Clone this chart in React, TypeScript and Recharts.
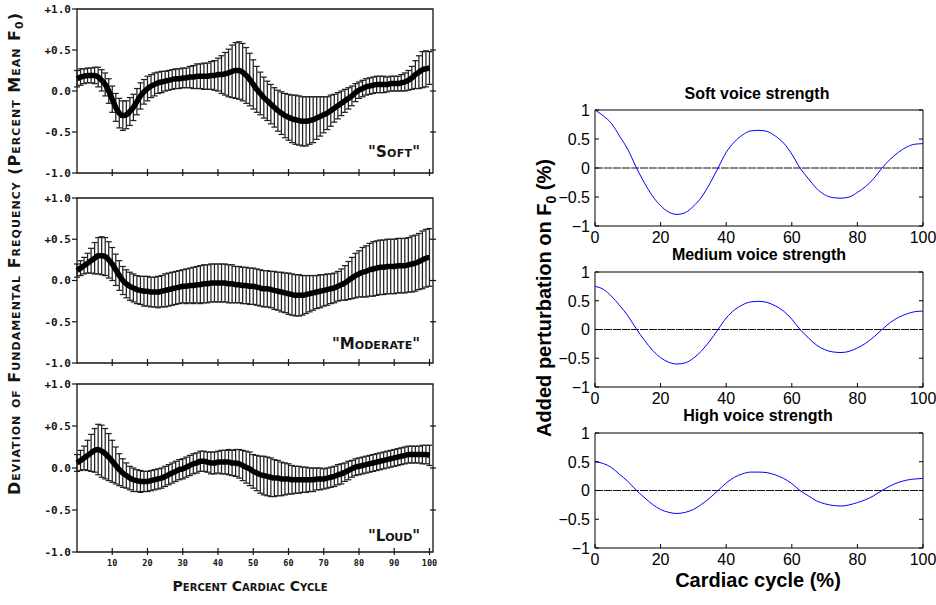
import React from 'react';
import { LineChart, Line, XAxis, YAxis, ErrorBar, ReferenceArea, ReferenceLine } from 'recharts';

// left figure: measured F0 deviation over the cardiac cycle (mean +/- error), one value per percent
const leftPct = [
  0, 1, 2, 3, 4, 5, 6, 7, 8, 9,
  10, 11, 12, 13, 14, 15, 16, 17, 18, 19,
  20, 21, 22, 23, 24, 25, 26, 27, 28, 29,
  30, 31, 32, 33, 34, 35, 36, 37, 38, 39,
  40, 41, 42, 43, 44, 45, 46, 47, 48, 49,
  50, 51, 52, 53, 54, 55, 56, 57, 58, 59,
  60, 61, 62, 63, 64, 65, 66, 67, 68, 69,
  70, 71, 72, 73, 74, 75, 76, 77, 78, 79,
  80, 81, 82, 83, 84, 85, 86, 87, 88, 89,
  90, 91, 92, 93, 94, 95, 96, 97, 98, 99,
  100];

const softMean = [
  0.15, 0.17, 0.18, 0.19, 0.19, 0.19, 0.17, 0.13, 0.08, 0.0,
  -0.1, -0.2, -0.27, -0.3, -0.29, -0.25, -0.2, -0.13, -0.06, -0.01,
  0.03, 0.06, 0.08, 0.1, 0.11, 0.12, 0.13, 0.14, 0.15, 0.15,
  0.16, 0.16, 0.17, 0.17, 0.18, 0.18, 0.18, 0.18, 0.19, 0.19,
  0.2, 0.2, 0.21, 0.22, 0.24, 0.25, 0.25, 0.23, 0.19, 0.14,
  0.08, 0.02, -0.03, -0.08, -0.12, -0.16, -0.2, -0.24, -0.27, -0.3,
  -0.32, -0.34, -0.35, -0.36, -0.37, -0.37, -0.36, -0.35, -0.33, -0.31,
  -0.29, -0.27, -0.24, -0.21, -0.18, -0.15, -0.12, -0.09, -0.06, -0.02,
  0.01, 0.03, 0.05, 0.06, 0.07, 0.08, 0.08, 0.08, 0.08, 0.09,
  0.09, 0.09, 0.1, 0.11, 0.13, 0.16, 0.2, 0.23, 0.26, 0.27,
  0.28];
const softErr = [
  0.1, 0.1, 0.09, 0.09, 0.09, 0.1, 0.12, 0.13, 0.14, 0.15,
  0.16, 0.17, 0.18, 0.18, 0.17, 0.17, 0.16, 0.16, 0.16, 0.15,
  0.15, 0.14, 0.14, 0.13, 0.13, 0.12, 0.12, 0.12, 0.12, 0.12,
  0.12, 0.12, 0.13, 0.14, 0.15, 0.15, 0.16, 0.16, 0.17, 0.18,
  0.2, 0.23, 0.26, 0.29, 0.32, 0.34, 0.35, 0.35, 0.34, 0.32,
  0.3, 0.28, 0.26, 0.25, 0.24, 0.24, 0.24, 0.25, 0.26, 0.27,
  0.28, 0.29, 0.3, 0.3, 0.3, 0.3, 0.29, 0.28, 0.26, 0.24,
  0.22, 0.2, 0.19, 0.17, 0.16, 0.15, 0.14, 0.13, 0.12, 0.11,
  0.1, 0.1, 0.1, 0.1, 0.1, 0.1, 0.1, 0.1, 0.09, 0.09,
  0.09, 0.09, 0.1, 0.11, 0.12, 0.14, 0.17, 0.2, 0.22, 0.22,
  0.2];

const modMean = [
  0.12, 0.15, 0.18, 0.21, 0.24, 0.27, 0.3, 0.3, 0.29, 0.25,
  0.2, 0.13, 0.06, 0.0, -0.04, -0.07, -0.09, -0.11, -0.12, -0.13,
  -0.13, -0.14, -0.14, -0.14, -0.13, -0.12, -0.11, -0.1, -0.09, -0.08,
  -0.07, -0.07, -0.06, -0.06, -0.05, -0.05, -0.04, -0.04, -0.03, -0.03,
  -0.03, -0.03, -0.03, -0.04, -0.04, -0.05, -0.05, -0.06, -0.06, -0.07,
  -0.07, -0.08, -0.09, -0.1, -0.1, -0.11, -0.12, -0.13, -0.14, -0.15,
  -0.16, -0.17, -0.18, -0.18, -0.18, -0.17, -0.16, -0.15, -0.14, -0.13,
  -0.12, -0.11, -0.1, -0.09, -0.07, -0.05, -0.03, 0.0, 0.03, 0.06,
  0.08, 0.1, 0.11, 0.13, 0.14, 0.15, 0.16, 0.16, 0.17, 0.17,
  0.17, 0.18, 0.18, 0.18, 0.19, 0.2, 0.21, 0.23, 0.25, 0.27,
  0.28];
const modErr = [
  0.08, 0.09, 0.1, 0.12, 0.15, 0.19, 0.22, 0.23, 0.23, 0.22,
  0.2, 0.19, 0.18, 0.17, 0.17, 0.17, 0.17, 0.17, 0.17, 0.18,
  0.18, 0.18, 0.18, 0.19, 0.19, 0.2, 0.2, 0.2, 0.2, 0.2,
  0.2, 0.21, 0.21, 0.22, 0.22, 0.23, 0.23, 0.23, 0.23, 0.23,
  0.23, 0.23, 0.23, 0.23, 0.23, 0.22, 0.22, 0.22, 0.22, 0.22,
  0.22, 0.22, 0.22, 0.22, 0.22, 0.22, 0.23, 0.23, 0.24, 0.24,
  0.25, 0.25, 0.25, 0.25, 0.24, 0.23, 0.22, 0.21, 0.2, 0.2,
  0.19, 0.19, 0.18, 0.18, 0.18, 0.19, 0.21, 0.23, 0.25, 0.27,
  0.28, 0.3, 0.31, 0.32, 0.33, 0.33, 0.33, 0.33, 0.33, 0.33,
  0.33, 0.33, 0.33, 0.33, 0.33, 0.34, 0.34, 0.34, 0.35, 0.35,
  0.35];

const loudMean = [
  0.06, 0.09, 0.12, 0.15, 0.18, 0.21, 0.22, 0.2, 0.17, 0.13,
  0.08, 0.03, -0.02, -0.06, -0.09, -0.12, -0.14, -0.15, -0.16, -0.16,
  -0.16, -0.15, -0.14, -0.13, -0.12, -0.1, -0.08, -0.06, -0.04, -0.02,
  -0.01, 0.01, 0.03, 0.05, 0.06, 0.08, 0.08, 0.07, 0.06, 0.06,
  0.07, 0.07, 0.07, 0.07, 0.06, 0.06, 0.05, 0.03, 0.01, -0.01,
  -0.04, -0.06, -0.08, -0.09, -0.1, -0.11, -0.12, -0.12, -0.13, -0.13,
  -0.13, -0.14, -0.14, -0.14, -0.14, -0.14, -0.14, -0.14, -0.13, -0.13,
  -0.13, -0.12, -0.11, -0.1, -0.08, -0.07, -0.05, -0.03, -0.01, 0.01,
  0.02, 0.03, 0.04, 0.05, 0.06, 0.07, 0.08, 0.09, 0.1, 0.11,
  0.12, 0.13, 0.14, 0.15, 0.16, 0.16, 0.16, 0.16, 0.16, 0.16,
  0.15];
const loudErr = [
  0.1, 0.12, 0.14, 0.18, 0.22, 0.26, 0.3, 0.31, 0.3, 0.28,
  0.25, 0.22, 0.19, 0.17, 0.15, 0.14, 0.14, 0.13, 0.13, 0.12,
  0.12, 0.12, 0.12, 0.12, 0.12, 0.12, 0.12, 0.12, 0.12, 0.12,
  0.12, 0.12, 0.12, 0.12, 0.12, 0.12, 0.12, 0.12, 0.13, 0.13,
  0.13, 0.14, 0.14, 0.15, 0.15, 0.16, 0.17, 0.18, 0.19, 0.2,
  0.2, 0.21, 0.22, 0.23, 0.23, 0.23, 0.22, 0.21, 0.2, 0.19,
  0.18, 0.17, 0.16, 0.16, 0.15, 0.15, 0.14, 0.14, 0.13, 0.13,
  0.12, 0.12, 0.12, 0.12, 0.12, 0.12, 0.11, 0.11, 0.1, 0.1,
  0.1, 0.1, 0.1, 0.1, 0.1, 0.1, 0.1, 0.1, 0.1, 0.1,
  0.1, 0.1, 0.1, 0.1, 0.1, 0.1, 0.1, 0.1, 0.11, 0.11,
  0.12];

const leftXTicks = [10, 20, 30, 40, 50, 60, 70, 80, 90, 100];
const leftYTicks = [-1, -0.5, 0, 0.5, 1];
const leftYLabels = ['-1.0', '-0.5', '0.0', '+0.5', '+1.0'];

// right figure: added perturbation on F0
const rightPct = [0, 2.5, 5, 7.5, 10, 12.5, 15, 17.5, 20, 22.5, 25, 27.5, 30, 32.5, 35, 37.5, 40, 42.5, 45, 47.5, 50,
  52.5, 55, 57.5, 60, 62.5, 65, 67.5, 70, 72.5, 75, 77.5, 80, 82.5, 85, 87.5, 90, 92.5, 95, 97.5, 100];
const softCurve = [1.0, 0.9, 0.77, 0.55, 0.32, 0.02, -0.25, -0.48, -0.65, -0.76, -0.8, -0.77, -0.66, -0.5, -0.27, 0.0,
  0.27, 0.45, 0.57, 0.64, 0.65, 0.63, 0.55, 0.43, 0.24, 0.0, -0.18, -0.35, -0.46, -0.51, -0.52, -0.5, -0.42,
  -0.32, -0.18, 0.0, 0.15, 0.27, 0.36, 0.41, 0.42];
const mediumCurve = [0.75, 0.7, 0.58, 0.42, 0.24, 0.02, -0.18, -0.36, -0.49, -0.57, -0.6, -0.58, -0.5, -0.37, -0.2, 0.0,
  0.2, 0.34, 0.43, 0.48, 0.49, 0.47, 0.41, 0.32, 0.18, 0.0, -0.14, -0.27, -0.35, -0.39, -0.4, -0.38, -0.32,
  -0.24, -0.13, 0.0, 0.12, 0.21, 0.27, 0.31, 0.32];
const highCurve = [0.5, 0.47, 0.4, 0.28, 0.16, 0.01, -0.12, -0.24, -0.33, -0.38, -0.4, -0.38, -0.33, -0.24, -0.13, 0.0,
  0.13, 0.23, 0.29, 0.32, 0.32, 0.31, 0.27, 0.21, 0.12, 0.0, -0.09, -0.18, -0.23, -0.26, -0.27, -0.25, -0.21,
  -0.16, -0.09, 0.0, 0.08, 0.14, 0.18, 0.2, 0.21];

const rightXTicks = [0, 20, 40, 60, 80, 100];
const rightYTicks = [-1, -0.5, 0, 0.5, 1];
const rightYLabels = ['\u22121', '\u22120.5', '0', '0.5', '1'];

const monoFont = '"DejaVu Sans Mono", monospace';
const capsFont = '"DejaVu Sans", sans-serif';
const helv = '"Liberation Sans", Arial, sans-serif';
const ink = '#151515';

const makeLeft = (mean: number[], err: number[]) => leftPct.map((x, i) => ({ x, mean: mean[i], err: err[i] }));
const makeRight = (vals: number[]) => rightPct.map((x, i) => ({ x, v: vals[i] }));

const LeftPanel = ({ data, plotTop, plotH, xLabels }: any) => {
  const h = plotH + 40;
  const xTick = (p: any) => (
    <g>
      <line x1={p.x} x2={p.x} y1={p.y - 4} y2={p.y + 3} stroke={ink} strokeWidth={1.2} />
      {xLabels && (
        <text x={p.x} y={p.y + 14} textAnchor="middle" fontFamily={monoFont} fontWeight="bold" fontSize={8.5} fill={ink}>
          {p.payload.value}
        </text>
      )}
    </g>
  );
  const yTick = (p: any) => (
    <g>
      <line x1={p.x - 5} x2={p.x} y1={p.y} y2={p.y} stroke={ink} strokeWidth={1.2} />
      <text x={p.x - 6} y={p.y} dy="0.35em" textAnchor="end" fontFamily={monoFont} fontWeight="bold" fontSize={11} fill={ink}>
        {leftYLabels[leftYTicks.indexOf(p.payload.value)]}
      </text>
    </g>
  );
  const rTick = (p: any) => (
    <line x1={p.x - 3} x2={p.x + 3} y1={p.y} y2={p.y} stroke={ink} strokeWidth={1.2} />
  );
  return (
    <div style={{ position: 'absolute', left: 0, top: plotTop - 10, width: 440, height: h }}>
      <LineChart width={440} height={h} data={data} margin={{ top: 10, right: 0, bottom: 0, left: 0 }}>
        <XAxis xAxisId="b" dataKey="x" type="number" domain={[0, 101]} ticks={leftXTicks} height={30}
          tickSize={0} tickMargin={0} axisLine={false} tickLine={false} tick={xTick} interval={0} />
        <YAxis yAxisId="l" type="number" domain={[-1, 1]} ticks={leftYTicks} width={77}
          tickSize={0} tickMargin={0} axisLine={false} tickLine={false} tick={yTick} interval={0} />
        <YAxis yAxisId="r" orientation="right" type="number" domain={[-1, 1]} ticks={[-0.5, 0, 0.5]} width={7}
          tickSize={0} tickMargin={0} axisLine={false} tickLine={false} tick={rTick} interval={0} />
        <ReferenceArea xAxisId="b" yAxisId="l" x1={0} x2={101} y1={-1} y2={1} fill="none" stroke={ink} strokeWidth={1.3} />
        <Line xAxisId="b" yAxisId="r" dataKey="mean" stroke="none" dot={false} isAnimationActive={false} />
        <Line xAxisId="b" yAxisId="l" dataKey="mean" type="monotone" stroke="#000" strokeWidth={5.5} dot={false}
          isAnimationActive={false}>
          <ErrorBar dataKey="err" direction="y" width={3} stroke="#222" strokeWidth={1.25} />
        </Line>
      </LineChart>
    </div>
  );
};

const RightPanel = ({ data, plotTop, plotH }: any) => {
  const h = plotH + 40;
  const bTick = (p: any) => (
    <g>
      <line x1={p.x} x2={p.x} y1={p.y} y2={p.y - 4} stroke="#000" strokeWidth={1} />
      <text x={p.x} y={p.y + 17} textAnchor="middle" fontFamily={helv} fontSize={16} fill="#000">{p.payload.value}</text>
    </g>
  );
  const tTick = (p: any) => <line x1={p.x} x2={p.x} y1={p.y} y2={p.y + 4} stroke="#000" strokeWidth={1} />;
  const lTick = (p: any) => (
    <g>
      <line x1={p.x} x2={p.x + 4} y1={p.y} y2={p.y} stroke="#000" strokeWidth={1} />
      <text x={p.x - 5} y={p.y} dy="0.36em" textAnchor="end" fontFamily={helv} fontSize={16} fill="#000">
        {rightYLabels[rightYTicks.indexOf(p.payload.value)]}
      </text>
    </g>
  );
  const rTick = (p: any) => <line x1={p.x} x2={p.x - 4} y1={p.y} y2={p.y} stroke="#000" strokeWidth={1} />;
  return (
    <div style={{ position: 'absolute', left: 550, top: plotTop - 10, width: 386, height: h }}>
      <LineChart width={386} height={h} data={data} margin={{ top: 10, right: 0, bottom: 0, left: 0 }}>
        <XAxis xAxisId="b" dataKey="x" type="number" domain={[0, 100]} ticks={rightXTicks} height={30}
          tickSize={0} tickMargin={0} axisLine={false} tickLine={false} tick={bTick} interval={0} />
        <XAxis xAxisId="t" orientation="top" dataKey="x" type="number" domain={[0, 100]} ticks={rightXTicks} height={0}
          tickSize={0} tickMargin={0} axisLine={false} tickLine={false} tick={tTick} interval={0} />
        <YAxis yAxisId="l" type="number" domain={[-1, 1]} ticks={rightYTicks} width={45}
          tickSize={0} tickMargin={0} axisLine={false} tickLine={false} tick={lTick} interval={0} />
        <YAxis yAxisId="r" orientation="right" type="number" domain={[-1, 1]} ticks={rightYTicks} width={13}
          tickSize={0} tickMargin={0} axisLine={false} tickLine={false} tick={rTick} interval={0} />
        <ReferenceArea xAxisId="b" yAxisId="l" x1={0} x2={100} y1={-1} y2={1} fill="none" stroke="#000" strokeWidth={1} />
        <ReferenceLine xAxisId="b" yAxisId="l" y={0} stroke="#111" strokeWidth={1} strokeDasharray="8 1" />
        <Line xAxisId="t" yAxisId="r" dataKey="v" stroke="none" dot={false} isAnimationActive={false} />
        <Line xAxisId="b" yAxisId="l" dataKey="v" type="monotone" stroke="#0000ff" strokeWidth={1} dot={false}
          isAnimationActive={false} />
      </LineChart>
    </div>
  );
};

const App = () => {
  const caps: React.CSSProperties = { fontVariant: 'small-caps' };
  return (
    <div style={{ position: 'absolute', left: 0, top: 0, width: 936, height: 605, background: '#fff', overflow: 'hidden' }}>
      <LeftPanel data={makeLeft(softMean, softErr)} plotTop={9} plotH={164} />
      <LeftPanel data={makeLeft(modMean, modErr)} plotTop={198} plotH={165} />
      <LeftPanel data={makeLeft(loudMean, loudErr)} plotTop={384} plotH={168} xLabels />

      <RightPanel data={makeRight(softCurve)} plotTop={110} plotH={116} />
      <RightPanel data={makeRight(mediumCurve)} plotTop={272} plotH={115} />
      <RightPanel data={makeRight(highCurve)} plotTop={433} plotH={115} />

      <svg width={936} height={605} style={{ position: 'absolute', left: 0, top: 0, pointerEvents: 'none' }}>
        <g fontFamily={capsFont} fontWeight="bold" fill={ink} style={caps}>
          <text transform="translate(20,254) rotate(-90)" textAnchor="middle" fontSize={16} textLength={482} lengthAdjust="spacing">
            Deviation of Fundamental Frequency (Percent Mean F<tspan dy={3} fontSize={11}>0</tspan><tspan dy={-3}>)</tspan>
          </text>
          <text x={250} y={591} textAnchor="middle" fontSize={14} textLength={155} lengthAdjust="spacing">
            Percent Cardiac Cycle
          </text>
          <text x={394} y={157} textAnchor="middle" fontSize={15} textLength={52} lengthAdjust="spacing">"Soft"</text>
          <text x={376} y={349} textAnchor="middle" fontSize={15} textLength={88} lengthAdjust="spacing">"Moderate"</text>
          <text x={394} y={541} textAnchor="middle" fontSize={15} textLength={52} lengthAdjust="spacing">"Loud"</text>
        </g>
        <g fontFamily={helv} fontWeight="bold" fill="#000" textAnchor="middle">
          <text x={757} y={99} fontSize={16}>Soft voice strength</text>
          <text x={759} y={260} fontSize={16}>Medium voice strength</text>
          <text x={758} y={421} fontSize={16}>High voice strength</text>
          <text x={758} y={587} fontSize={20}>Cardiac cycle (%)</text>
          <text transform="translate(551,298) rotate(-90)" fontSize={20}>
            Added perturbation on F<tspan dy={5} fontSize={14}>0</tspan><tspan dy={-5}> (%)</tspan>
          </text>
        </g>
      </svg>
    </div>
  );
};

export default App;
